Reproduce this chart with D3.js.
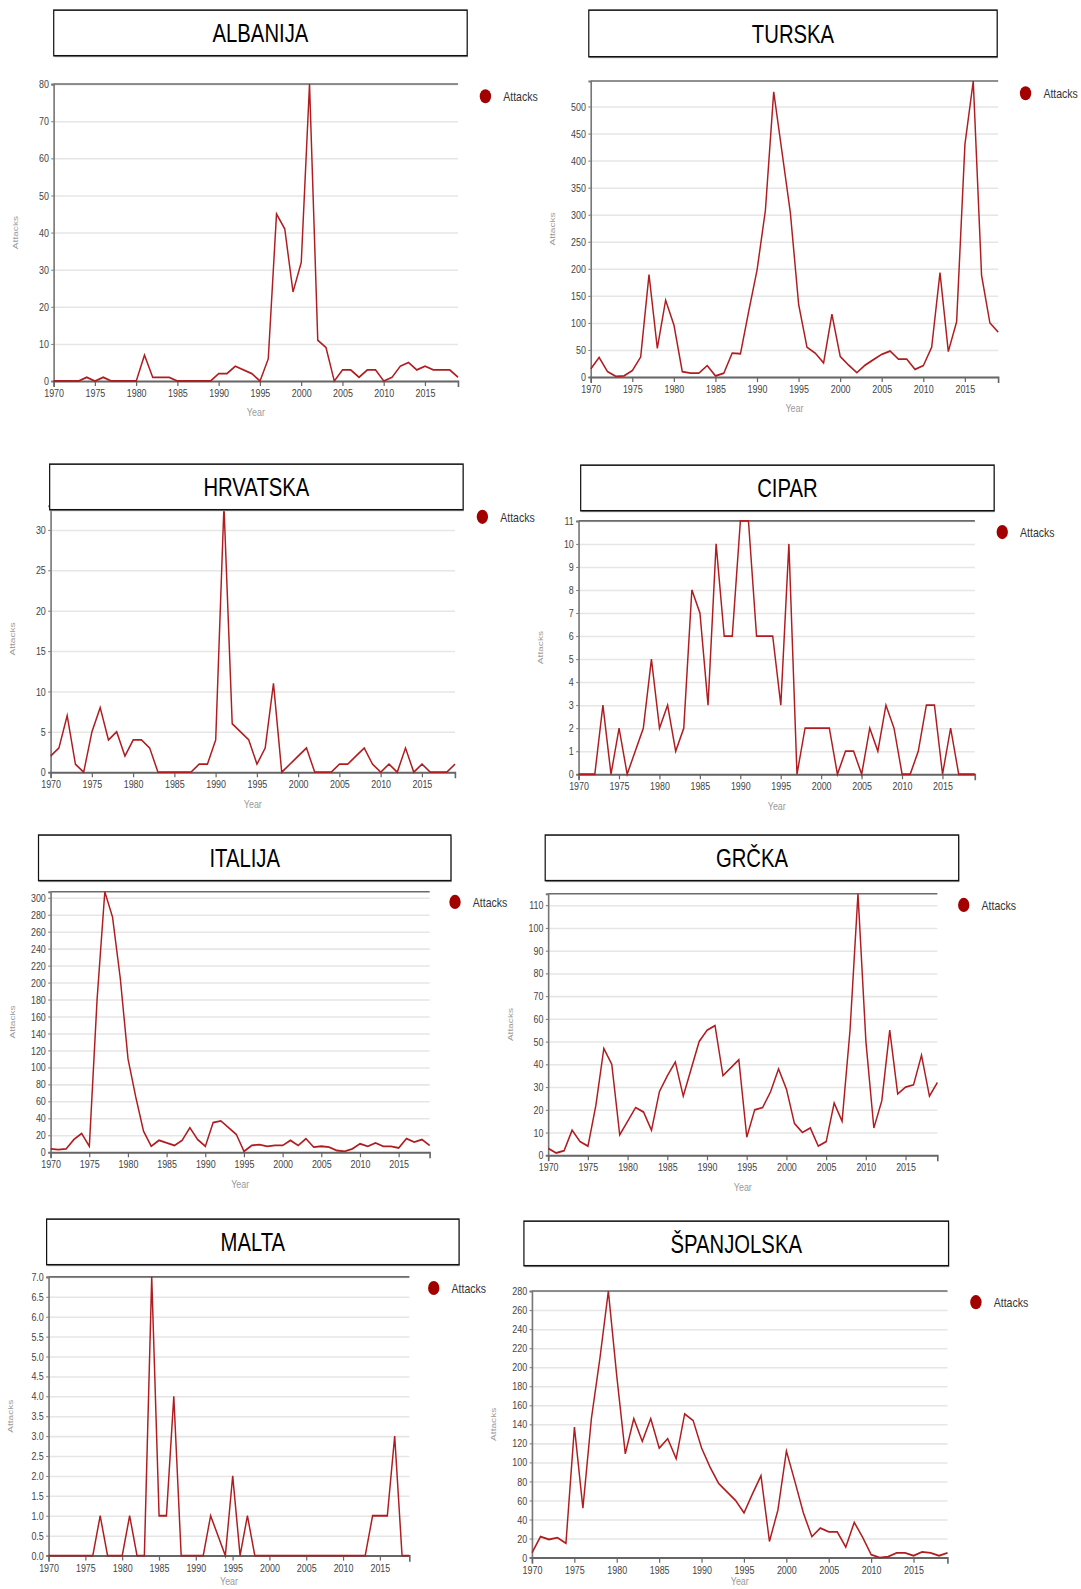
<!DOCTYPE html>
<html>
<head>
  <meta charset="utf-8">
  <title>Attacks by country</title>
  <script src="https://d3js.org/d3.v7.min.js"></script>
  <style>
    html, body { margin: 0; padding: 0; background: #fff; overflow: hidden; }
    svg { display: block; }
    text { font-family: "Liberation Sans", Arial, sans-serif; }
    .tick text { fill: #444; font-size: 11px; }
  </style>
</head>
<body>
  <svg id="chart" width="1081" height="1589"></svg>

  <script>
    // years in the data (1993 has no record, so it is not in the list)
    const years = [1970, 1971, 1972, 1973, 1974, 1975, 1976, 1977, 1978, 1979,
      1980, 1981, 1982, 1983, 1984, 1985, 1986, 1987, 1988, 1989,
      1990, 1991, 1992, 1994, 1995, 1996, 1997, 1998, 1999,
      2000, 2001, 2002, 2003, 2004, 2005, 2006, 2007, 2008, 2009,
      2010, 2011, 2012, 2013, 2014, 2015, 2016, 2017, 2018, 2019];

    const albanija = [0, 0, 0, 0, 1, 0, 1, 0, 0, 0,
      0, 7, 1, 1, 1, 0, 0, 0, 0, 0,
      2, 2, 4, 2, 0, 6, 45, 41, 24,
      32, 80, 11, 9, 0, 3, 3, 1, 3, 3,
      0, 1, 4, 5, 3, 4, 3, 3, 3, 1];

    const turska = [15, 36, 10, 1, 2, 12, 37, 189, 53, 142,
      96, 10, 7, 7, 21, 2, 7, 44, 43, 122,
      198, 308, 527, 304, 134, 55, 44, 26, 116,
      38, 22, 8, 22, 32, 42, 48, 33, 33, 14,
      21, 55, 193, 47, 102, 430, 547, 188, 100, 83];

    const hrvatska = [2, 3, 7, 1, 0, 5, 8, 4, 5, 2,
      4, 4, 3, 0, 0, 0, 0, 0, 1, 1,
      4, 33, 6, 4, 1, 3, 11, 0, 1,
      2, 3, 0, 0, 0, 1, 1, 2, 3, 1,
      0, 1, 0, 3, 0, 1, 0, 0, 0, 1];

    const cipar = [0, 0, 0, 3, 0, 2, 0, 1, 2, 5,
      2, 3, 1, 2, 8, 7, 3, 10, 6, 6,
      11, 11, 6, 6, 3, 10, 0, 2, 2,
      2, 2, 0, 1, 1, 0, 2, 1, 3, 2,
      0, 0, 1, 3, 3, 0, 2, 0, 0, 0];

    const italija = [4, 3, 4, 15, 22, 7, 180, 307, 277, 205,
      110, 65, 25, 7, 14, 11, 8, 14, 29, 15,
      7, 35, 37, 21, 1, 8, 9, 7, 8,
      8, 14, 8, 16, 6, 7, 6, 2, 1, 4,
      10, 7, 11, 7, 7, 5, 16, 12, 15, 8];

    const grcka = [3, 1, 2, 11, 6, 4, 22, 47, 40, 9,
      15, 21, 19, 11, 28, 35, 41, 26, 38, 50,
      55, 57, 35, 42, 8, 20, 21, 28, 38,
      29, 14, 10, 12, 4, 6, 23, 15, 55, 115,
      50, 12, 24, 55, 27, 30, 31, 44, 26, 32];

    const malta = [0, 0, 0, 0, 0, 0, 0, 1, 0, 0,
      0, 1, 0, 0, 7, 1, 1, 4, 0, 0,
      0, 0, 1, 0, 2, 0, 1, 0, 0,
      0, 0, 0, 0, 0, 0, 0, 0, 0, 0,
      0, 0, 0, 0, 1, 1, 1, 3, 0, 0];

    const spanjolska = [5, 22, 19, 21, 15, 137, 52, 146, 209, 280,
      190, 109, 146, 122, 146, 115, 125, 104, 151, 144,
      115, 95, 78, 60, 47, 67, 86, 17, 50,
      112, 80, 47, 22, 31, 27, 27, 11, 37, 21,
      3, 0, 1, 5, 5, 2, 6, 5, 2, 5];

    const seriesName = "Attacks";

    // panel layout (measured on a 1568-high view): plot box, title box, legend dot
    const panels = [
      { title: "ALBANIJA", values: albanija, left: 53, right: 452, top: 83, bottom: 376,
        box: [53, 10, 408, 45], legend: [479, 95] },
      { title: "TURSKA", values: turska, left: 583, right: 985, top: 80, bottom: 372,
        box: [581, 10, 403, 46], legend: [1012, 92] },
      { title: "HRVATSKA", values: hrvatska, left: 50, right: 449, top: 499, bottom: 762,
        box: [49, 458, 408, 45], legend: [476, 510] },
      { title: "CIPAR", values: cipar, left: 571, right: 962, top: 514, bottom: 764,
        box: [573, 459, 408, 45], legend: [989, 525] },
      { title: "ITALIJA", values: italija, left: 50, right: 424, top: 880, bottom: 1137,
        box: [38, 824, 407, 45], legend: [449, 890] },
      { title: "GRČKA", values: grcka, left: 541, right: 925, top: 882, bottom: 1140,
        box: [538, 824, 408, 45], legend: [951, 893] },
      { title: "MALTA", values: malta, left: 48, right: 404, top: 1260, bottom: 1535,
        box: [46, 1203, 407, 45], legend: [428, 1271] },
      { title: "ŠPANJOLSKA", values: spanjolska, left: 525, right: 935, top: 1274, bottom: 1537,
        box: [517, 1205, 419, 44], legend: [963, 1285] }
    ];

    // the original picture is squeezed sideways, so draw into a narrowed group
    const k = 1589 / 1568;
    const sx = 0.8;
    const X = v => v / sx;
    const svg = d3.select("#chart");
    const root = svg.append("g").attr("transform", `scale(${sx * k},${k})`);

    panels.forEach(p => {
      const g = root.append("g");
      const x0 = X(p.left), x1 = X(p.right);

      const xScale = d3.scaleLinear().domain([1970, 2019]).range([x0, x1]);
      const yScale = d3.scaleLinear().domain([0, d3.max(p.values)]).range([p.bottom, p.top]);

      // gridlines
      g.append("g")
        .attr("transform", `translate(${x0},0)`)
        .call(d3.axisLeft(yScale).tickSize(-(x1 - x0)).tickFormat(""))
        .call(a => a.select(".domain").remove())
        .selectAll("line").attr("stroke", "#e6e6e6").attr("stroke-width", 1.5);

      // top border at the max value
      g.append("line")
        .attr("x1", x0).attr("x2", x1)
        .attr("y1", yScale(d3.max(p.values))).attr("y2", yScale(d3.max(p.values)))
        .attr("stroke", "#6b6b6b").attr("stroke-width", 1.5);

      // y axis
      const yAxis = g.append("g")
        .attr("transform", `translate(${x0},0)`)
        .call(d3.axisLeft(yScale).tickSize(3).tickPadding(3));
      yAxis.select(".domain").attr("stroke", "#777").attr("stroke-width", 2);
      yAxis.selectAll(".tick line").attr("stroke", "#777");

      // x axis
      const xAxis = g.append("g")
        .attr("transform", `translate(0,${p.bottom})`)
        .call(d3.axisBottom(xScale).tickFormat(d3.format("d")).tickSize(5).tickSizeOuter(6).tickPadding(3));
      xAxis.select(".domain").attr("stroke", "#666").attr("stroke-width", 2);
      xAxis.selectAll(".tick line").attr("stroke", "#666").attr("stroke-width", 1.5);

      // data line
      const pts = years.map((yr, i) => ({ yr: yr, v: p.values[i] }));
      g.append("path")
        .datum(pts)
        .attr("fill", "none")
        .attr("stroke", "#b01c1f")
        .attr("stroke-width", 1.8)
        .attr("stroke-linejoin", "miter")
        .attr("d", d3.line().x(d => xScale(d.yr)).y(d => yScale(d.v)));

      // axis titles
      g.append("text")
        .attr("transform", `translate(${x0 - 44},${(p.top + p.bottom) / 2}) rotate(-90)`)
        .attr("text-anchor", "middle")
        .attr("fill", "#9a9a9a")
        .style("font-size", "10px")
        .text("Attacks");
      g.append("text")
        .attr("x", (x0 + x1) / 2)
        .attr("y", Math.min(p.bottom + 35, 1564))   // keep the bottom row inside the page
        .attr("text-anchor", "middle")
        .attr("fill", "#9a9a9a")
        .style("font-size", "11px")
        .text("Year");

      // legend
      g.append("circle")
        .attr("cx", X(p.legend[0])).attr("cy", p.legend[1]).attr("r", 7)
        .attr("fill", "#a30000");
      g.append("text")
        .attr("x", X(p.legend[0]) + 22).attr("y", p.legend[1] + 5)
        .attr("fill", "#333")
        .style("font-size", "13px")
        .text(seriesName);

      // title box
      const [bx, by, bw, bh] = p.box;
      g.append("rect")
        .attr("x", X(bx) + 1).attr("y", by + 1.5).attr("width", X(bw)).attr("height", bh)
        .attr("fill", "#bbb");
      g.append("rect")
        .attr("x", X(bx)).attr("y", by).attr("width", X(bw)).attr("height", bh)
        .attr("fill", "#fff").attr("stroke", "#111").attr("stroke-width", 1.5);
      g.append("text")
        .attr("x", X(bx + bw / 2)).attr("y", by + bh / 2 + 9)
        .attr("text-anchor", "middle")
        .attr("fill", "#000")
        .style("font-size", "25px")
        .text(p.title);
    });
  </script>
</body>
</html>
